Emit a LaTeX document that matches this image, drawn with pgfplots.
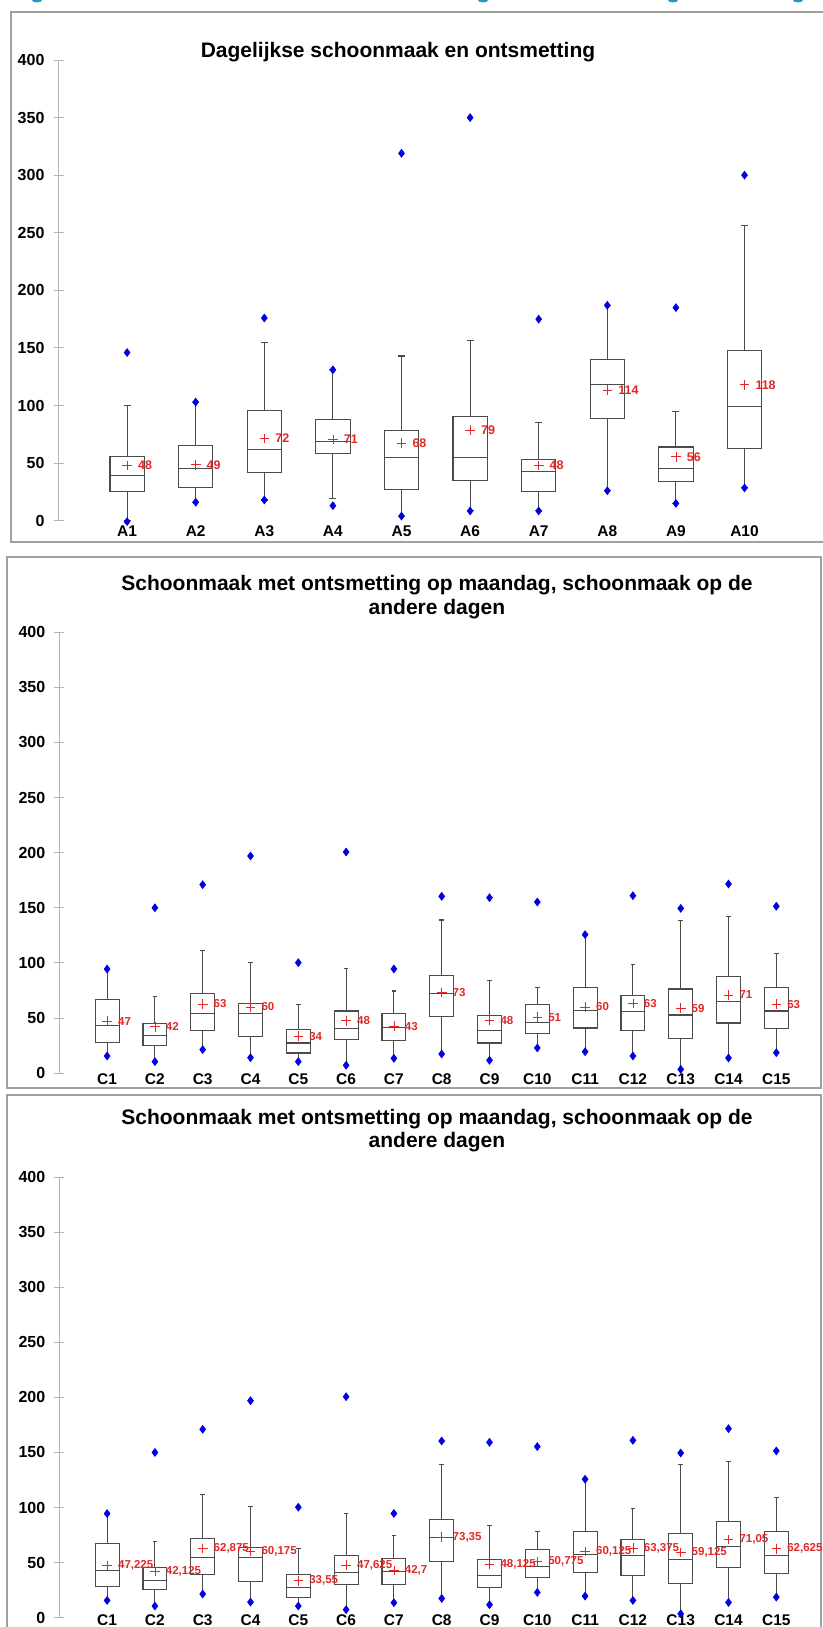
\documentclass[border=0pt]{standalone}
\usepackage{fontspec}
\setmainfont{Liberation Sans}
\usepackage{pgfplots}
\pgfplotsset{compat=1.18}
\usepgfplotslibrary{statistics}
\definecolor{framegray}{RGB}{160,160,160}
\definecolor{axgray}{RGB}{180,180,180}
\definecolor{boxgray}{RGB}{75,75,75}
\definecolor{dotblue}{RGB}{0,0,225}
\definecolor{meanred}{RGB}{228,38,38}
\definecolor{tealhead}{RGB}{40,150,195}

\pgfplotsset{
  panel/.style={
    scale only axis, xmin=0, ymin=0, ymax=400, clip=false,
    axis x line*=bottom, axis y line*=left,
    x axis line style={draw=none},
    y axis line style={-, draw=axgray, line width=0.5pt},
    xtick style={draw=none},
    ytick style={draw=axgray, line width=0.5pt},
    tick align=center, major tick length=5pt,
    ytick={0,50,...,400},
    /pgf/number format/assume math mode=true,
    yticklabel style={font=\fontsize{8}{8}\selectfont\bfseries, xshift=-1pt},
    xticklabel style={font=\fontsize{7.75}{7.75}\selectfont\bfseries},
    boxplot/draw direction=y,
    boxplot/box extend=0.5,
    boxplot/whisker extend=0.1,
  },
  mybx/.style={draw=boxgray, line width=0.55pt, solid, fill=none, mark=none},
  mydots/.style={only marks, mark=diamond*, mark size=1.9pt, color=dotblue},
  mymeans/.style={only marks, mark=+, mark size=2.4pt, color=meanred, line width=0.35pt,
    nodes near coords, point meta=explicit symbolic,
    nodes near coords style={anchor=west, xshift=2pt, text=meanred,
      font=\fontsize{#1}{#1}\selectfont\bfseries}},
}
\newcommand\mybox[6]{\addplot[mybx, boxplot prepared={draw position=#1, lower whisker=#2,
  lower quartile=#3, median=#4, upper quartile=#5, upper whisker=#6}] coordinates {};}

\newcommand\Cboxes{%
  \mybox{1}{15.7}{28}{43}{67}{94.5}
  \mybox{2}{10.6}{25.4}{34}{45.3}{69.5}
  \mybox{3}{21.5}{39}{54.4}{72.2}{111.5}
  \mybox{4}{14.2}{33.2}{54.4}{63.4}{100.6}
  \mybox{5}{10.6}{18.4}{27.5}{39.6}{62.5}
  \mybox{6}{7.3}{30.5}{40.8}{56.5}{95}
  \mybox{7}{13.6}{30}{41.7}{54}{74.6}
  \mybox{8}{17.5}{51.4}{72.5}{88.8}{139}
  \mybox{9}{11.8}{27.5}{38.4}{52.6}{84}
  \mybox{10}{23}{36.3}{46.2}{62.2}{78}
  \mybox{11}{19.6}{41.1}{57.1}{78}{125.7}
  \mybox{12}{15.7}{38.4}{56.2}{70.7}{98.8}
  \mybox{13}{3.6}{31.4}{52.9}{76.4}{138.7}
  \mybox{14}{13.9}{45.6}{65}{87.6}{142}
  \mybox{15}{18.7}{40.5}{56.5}{78}{108.8}
  \addplot[mydots] coordinates {
    (1,94.5) (1,15.7) (2,150) (2,10.6) (3,171) (3,21.5) (4,197) (4,14.2)
    (5,100.3) (5,10.6) (6,200.6) (6,7.3) (7,94.6) (7,13.6) (8,160.4) (8,17.5)
    (9,159.2) (9,11.8) (10,155.3) (10,23) (11,125.7) (11,19.6) (12,161) (12,15.7)
    (13,149.5) (13,3.6) (14,171.6) (14,13.9) (15,151.4) (15,18.7)};
}

\begin{document}
\begin{tikzpicture}
\path[use as bounding box] (0pt,0pt) rectangle (411.5pt,-813.5pt);

% header fragments
\begin{scope}
\clip (0pt,0pt) rectangle (411.5pt,-1.5pt);
\foreach \hx in {18.5,241.5,336.5,399} {\fill[tealhead] (\hx pt,0pt) ellipse [x radius=2.5pt, y radius=1.25pt];}
\end{scope}

% frames
\draw[framegray, line width=0.75pt] (5.5pt,-6pt) rectangle (415pt,-271pt);
\draw[framegray, line width=0.75pt] (3.5pt,-278.5pt) rectangle (410.5pt,-544pt);
\draw[framegray, line width=0.75pt] (3.5pt,-547.5pt) rectangle (410.5pt,-820pt);

% ---------- Panel 1 ----------
\begin{axis}[panel, at={(29.25pt,-260.35pt)}, anchor=south west,
  width=377.3pt, height=230.35pt, xmax=11,
  xtick={1,...,10}, xticklabels={A1,A2,A3,A4,A5,A6,A7,A8,A9,A10},
  xticklabel style={yshift=3.3pt}]
  \mybox{1}{0}{25}{39}{56}{100}
  \mybox{2}{16}{29}{45.5}{65}{103}
  \mybox{3}{18}{42}{62}{96}{155}
  \mybox{4}{19.5}{58.5}{69}{88}{131}
  \mybox{5}{4}{27}{55}{78}{143}
  \mybox{6}{8.5}{35}{54.5}{90.5}{156.5}
  \mybox{7}{8.5}{25}{42.5}{53}{85}
  \mybox{8}{26}{89}{118.5}{140}{187}
  \mybox{9}{15}{34}{45}{64}{95}
  \mybox{10}{28.5}{62.5}{99}{147.5}{256}
  \addplot[mydots] coordinates {
    (1,146) (1,-0.8) (2,103) (2,16) (3,176) (3,18) (4,131) (4,13)
    (5,319) (5,4) (6,350) (6,8.5) (7,175) (7,8.5) (8,187) (8,26)
    (9,185) (9,15) (10,300) (10,28.5)};
  \addplot[mymeans=6.25] coordinates {
    (1,48)[48] (2,48.5)[49] (3,71.5)[72] (4,70.5)[71] (5,67.5)[68]
    (6,78.5)[79] (7,48)[48] (8,113.5)[114] (9,55.5)[56] (10,118)[118]};
\end{axis}
\node[font=\fontsize{10.5}{10.5}\selectfont\bfseries] at (199pt,-26pt) {Dagelijkse schoonmaak en ontsmetting};

% ---------- Panel 2 ----------
\begin{axis}[panel, at={(29.65pt,-536.65pt)}, anchor=south west,
  width=382.4pt, height=220.65pt, xmax=16,
  xtick={1,...,15}, xticklabels={C1,C2,C3,C4,C5,C6,C7,C8,C9,C10,C11,C12,C13,C14,C15},
  xticklabel style={yshift=6pt}]
  \Cboxes
  \addplot[mymeans=5.75] coordinates {
    (1,47.225)[47] (2,42.125)[42] (3,62.875)[63] (4,60.175)[60] (5,33.55)[34]
    (6,47.625)[48] (7,42.7)[43] (8,73.35)[73] (9,48.125)[48] (10,50.775)[51]
    (11,60.125)[60] (12,63.375)[63] (13,59.125)[59] (14,71.05)[71] (15,62.625)[63]};
\end{axis}
\node[font=\fontsize{10.5}{10.5}\selectfont\bfseries] at (218.5pt,-292.5pt) {Schoonmaak met ontsmetting op maandag, schoonmaak op de};
\node[font=\fontsize{10.5}{10.5}\selectfont\bfseries] at (218.5pt,-304.5pt) {andere dagen};

% ---------- Panel 3 ----------
\begin{axis}[panel, at={(29.65pt,-808.85pt)}, anchor=south west,
  width=382.4pt, height=220.35pt, xmax=16,
  xtick={1,...,15}, xticklabels={C1,C2,C3,C4,C5,C6,C7,C8,C9,C10,C11,C12,C13,C14,C15},
  xticklabel style={yshift=7.8pt}]
  \Cboxes
  \addplot[mymeans=5.75] coordinates {
    (1,47.225)[47,225] (2,42.125)[42,125] (3,62.875)[62,875] (4,60.175)[60,175] (5,33.55)[33,55]
    (6,47.625)[47,625] (7,42.7)[42,7] (8,73.35)[73,35] (9,48.125)[48,125] (10,50.775)[50,775]
    (11,60.125)[60,125] (12,63.375)[63,375] (13,59.125)[59,125] (14,71.05)[71,05] (15,62.625)[62,625]};
\end{axis}
\node[font=\fontsize{10.5}{10.5}\selectfont\bfseries] at (218.5pt,-559.5pt) {Schoonmaak met ontsmetting op maandag, schoonmaak op de};
\node[font=\fontsize{10.5}{10.5}\selectfont\bfseries] at (218.5pt,-571.3pt) {andere dagen};
\end{tikzpicture}
\end{document}
